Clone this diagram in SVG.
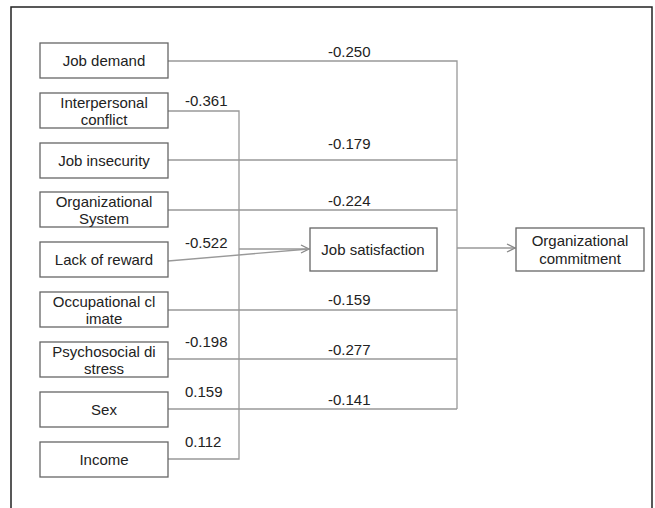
<svg xmlns="http://www.w3.org/2000/svg" width="655" height="508" viewBox="0 0 655 508">
<defs>
<style>
.box{fill:#fff;stroke:#666;stroke-width:1.3}
.t{font-family:"Liberation Sans",Arial,sans-serif;font-size:15px;fill:#222}
.m{text-anchor:middle}
.ln{fill:none;stroke:#999;stroke-width:1.3}
</style>
<marker id="arr" viewBox="0 0 10 10" refX="9" refY="5" markerWidth="10" markerHeight="10" markerUnits="userSpaceOnUse" orient="auto">
<path d="M1,1 L9,5 L1,9" fill="none" stroke="#888" stroke-width="1.3"/>
</marker>
</defs>
<rect x="0" y="0" width="655" height="508" fill="#fff"/>
<rect x="11" y="7" width="641" height="520" fill="none" stroke="#222" stroke-width="1.5"/>
<g id="connectors">
<path class="ln" d="M168,61 H457 V409"/>
<path class="ln" d="M168,160 H457"/>
<path class="ln" d="M168,210 H457"/>
<path class="ln" d="M168,310 H457"/>
<path class="ln" d="M168,359 H457"/>
<path class="ln" d="M168,409 H457"/>
<path class="ln" d="M168,111 H239 V459 H168"/>
<path class="ln" d="M239,249 H309" marker-end="url(#arr)"/>
<path class="ln" d="M168,261 L309,249"/>
<path class="ln" d="M457,248 H515" marker-end="url(#arr)"/>
<text class="t" x="185" y="106">-0.361</text>
<text class="t" x="185" y="248">-0.522</text>
<text class="t" x="185" y="347">-0.198</text>
<text class="t" x="185" y="397">0.159</text>
<text class="t" x="185" y="447">0.112</text>
<text class="t" x="328" y="57">-0.250</text>
<text class="t" x="328" y="149">-0.179</text>
<text class="t" x="328" y="206">-0.224</text>
<text class="t" x="328" y="305">-0.159</text>
<text class="t" x="328" y="355">-0.277</text>
<text class="t" x="328" y="405">-0.141</text>
</g>
<g id="job-demand"><rect class="box" x="40" y="43" width="128" height="35"/><text class="t m" x="104" y="66">Job demand</text></g>
<g id="interpersonal-conflict"><rect class="box" x="40" y="93" width="128" height="35"/><text class="t m" x="104" y="108">Interpersonal</text><text class="t m" x="104" y="125">conflict</text></g>
<g id="job-insecurity"><rect class="box" x="40" y="143" width="128" height="35"/><text class="t m" x="104" y="166">Job insecurity</text></g>
<g id="organizational-system"><rect class="box" x="40" y="192" width="128" height="35"/><text class="t m" x="104" y="207">Organizational</text><text class="t m" x="104" y="224">System</text></g>
<g id="lack-of-reward"><rect class="box" x="40" y="242" width="128" height="35"/><text class="t m" x="104" y="265">Lack of reward</text></g>
<g id="occupational-climate"><rect class="box" x="40" y="292" width="128" height="35"/><text class="t m" x="104" y="307">Occupational cl</text><text class="t m" x="104" y="324">imate</text></g>
<g id="psychosocial-distress"><rect class="box" x="40" y="342" width="128" height="35"/><text class="t m" x="104" y="357">Psychosocial di</text><text class="t m" x="104" y="374">stress</text></g>
<g id="sex"><rect class="box" x="40" y="392" width="128" height="35"/><text class="t m" x="104" y="415">Sex</text></g>
<g id="income"><rect class="box" x="40" y="442" width="128" height="35"/><text class="t m" x="104" y="465">Income</text></g>
<g id="job-satisfaction"><rect class="box" x="310" y="228" width="127" height="43"/><text class="t m" x="373" y="255">Job satisfaction</text></g>
<g id="organizational-commitment"><rect class="box" x="516" y="228" width="128" height="43"/><text class="t m" x="580" y="246">Organizational</text><text class="t m" x="580" y="264">commitment</text></g>
</svg>
